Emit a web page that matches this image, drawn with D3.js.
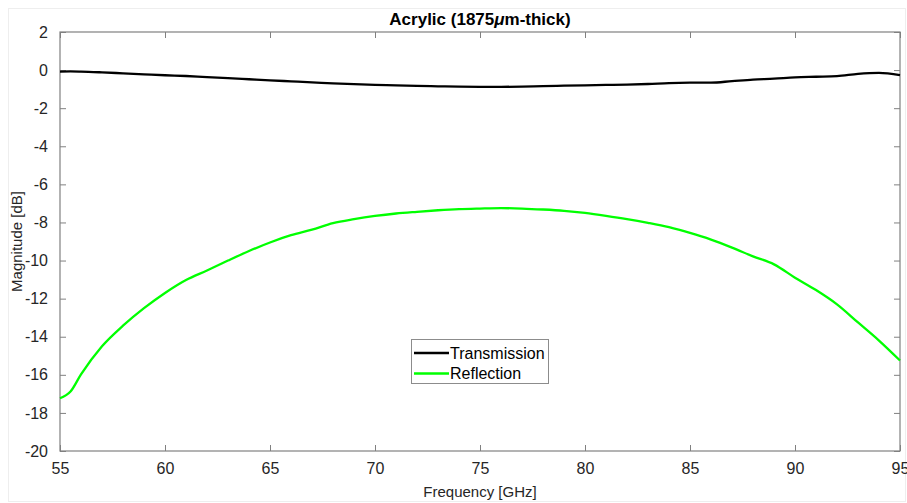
<!DOCTYPE html>
<html><head><meta charset="utf-8">
<script src="https://cdn.jsdelivr.net/npm/d3@7"></script>
<style>body{margin:0;background:#fff}svg{display:block}text{font-family:"Liberation Sans",Arial,sans-serif}</style>
</head><body><svg id="c" width="907" height="503"></svg>
<script>
const freq = [55,55.5,56,57,58,59,60,61,62,63,64,65,66,67,68,69,70,71,72,73,74,75,76,77,78,79,80,81,82,83,84,85,86,87,88,89,90,91,92,93,94,95];
const transmission = [-0.08,-0.07,-0.08,-0.12,-0.17,-0.22,-0.27,-0.31,-0.37,-0.42,-0.48,-0.54,-0.59,-0.64,-0.7,-0.74,-0.78,-0.8,-0.83,-0.85,-0.87,-0.88,-0.88,-0.87,-0.84,-0.82,-0.8,-0.78,-0.76,-0.73,-0.68,-0.66,-0.66,-0.58,-0.5,-0.45,-0.38,-0.35,-0.32,-0.2,-0.15,-0.26];
const reflection = [-17.23,-16.88,-15.98,-14.5,-13.42,-12.5,-11.7,-11.02,-10.52,-10.0,-9.5,-9.05,-8.67,-8.38,-8.04,-7.83,-7.66,-7.53,-7.44,-7.36,-7.3,-7.27,-7.25,-7.27,-7.32,-7.39,-7.5,-7.65,-7.82,-8.02,-8.25,-8.55,-8.9,-9.32,-9.78,-10.2,-10.9,-11.55,-12.3,-13.25,-14.2,-15.25];
const xTicks = [55,60,65,70,75,80,85,90,95];
const yTicks = [2,0,-2,-4,-6,-8,-10,-12,-14,-16,-18,-20];
const seriesNames = ["Transmission","Reflection"];
const seriesColors = ["#000000","#00ff00"];

const svg = d3.select("#c");
const L=60,R=900,T=32,B=451;
const x = d3.scaleLinear().domain([55,95]).range([L,R]);
const y = d3.scaleLinear().domain([-20,2]).range([B,T]);
const axisColor = "#808080";
const fmt = d => String(d);

svg.append("rect").attr("x",8.5).attr("y",8.5).attr("width",897).attr("height",493).attr("fill","none").attr("stroke","#eeeeee");

function styleAxis(g, labels){
  g.select(".domain").remove();
  g.selectAll(".tick line").attr("stroke",axisColor);
  g.selectAll(".tick text").attr("fill","#262626").style("font-size","16px");
  if(!labels) g.selectAll(".tick text").remove();
}
svg.append("g").attr("transform",`translate(0,${B})`).call(d3.axisBottom(x).tickValues(xTicks).tickSize(-6).tickPadding(12).tickFormat(fmt)).call(g=>styleAxis(g,true));
svg.append("g").attr("transform",`translate(0,${T})`).call(d3.axisTop(x).tickValues(xTicks).tickSize(-6).tickFormat("")).call(g=>styleAxis(g,false));
svg.append("g").attr("transform",`translate(${L},0)`).call(d3.axisLeft(y).tickValues(yTicks).tickSize(-6).tickPadding(12).tickFormat(fmt)).call(g=>styleAxis(g,true));
svg.append("g").attr("transform",`translate(${R},0)`).call(d3.axisRight(y).tickValues(yTicks).tickSize(-6).tickFormat("")).call(g=>styleAxis(g,false));
svg.append("rect").attr("x",L).attr("y",T).attr("width",R-L).attr("height",B-T).attr("fill","none").attr("stroke",axisColor).attr("stroke-width",1.2);

const line = d3.line().x((d,i)=>x(freq[i])).y(d=>y(d)).curve(d3.curveMonotoneX);
[transmission,reflection].forEach((s,k)=>{
  svg.append("path").datum(s).attr("d",line).attr("fill","none").attr("stroke",seriesColors[k]).attr("stroke-width",2.3).attr("stroke-linejoin","round");
});

// Title and labels
const title = svg.append("text").attr("x",(L+R)/2).attr("y",25).attr("text-anchor","middle").style("font-size","17px").style("font-weight","bold").attr("fill","#000");
title.append("tspan").text("Acrylic (1875");
title.append("tspan").text("μ").style("font-style","italic");
title.append("tspan").text("m-thick)");
svg.append("text").attr("x",(L+R)/2).attr("y",497).attr("text-anchor","middle").style("font-size","15px").attr("fill","#262626").text("Frequency [GHz]");
svg.append("text").attr("transform",`translate(22,${(T+B)/2}) rotate(-90)`).attr("text-anchor","middle").style("font-size","15px").attr("fill","#262626").text("Magnitude [dB]");

// Legend
const lg = svg.append("g");
lg.append("rect").attr("x",411.5).attr("y",339.5).attr("width",137).attr("height",44).attr("fill","#fff").attr("stroke","#8c8c8c");
seriesNames.forEach((n,i)=>{
  const yy = 353 + i*20.5;
  lg.append("line").attr("x1",414).attr("x2",449).attr("y1",yy).attr("y2",yy).attr("stroke",seriesColors[i]).attr("stroke-width",2.3);
  lg.append("text").attr("x",450).attr("y",yy+5.5).style("font-size","16px").attr("fill","#000").text(n);
});
</script></body></html>
